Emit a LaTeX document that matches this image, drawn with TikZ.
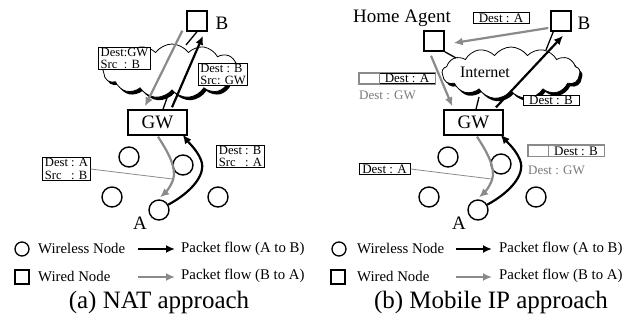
\documentclass[tikz,border=0pt]{standalone}
\usepackage{fontspec}
\setmainfont{Liberation Serif}
\usetikzlibrary{shapes.symbols,shadows,arrows.meta,calc,fit}
\definecolor{flowgray}{HTML}{8A8A8A}
\definecolor{textgray}{HTML}{7A7A7A}
\tikzset{
  wired/.style={draw, line width=1.4pt, minimum size=20pt, inner sep=0pt},
  wireless/.style={circle, draw, line width=1.4pt, minimum size=20pt, inner sep=0pt},
  gwbox/.style={draw, line width=1.4pt, minimum width=59pt, minimum height=25pt, inner sep=0pt, font=\fontsize{19}{19}\selectfont},
  big/.style={font=\fontsize{19}{19}\selectfont, inner sep=0pt},
  hdr/.style={draw, fill=white, line width=1pt, font=\fontsize{12.6}{12.6}\selectfont, align=left, inner xsep=2pt, inner ysep=0.5pt},
  hdrone/.style={draw, fill=white, line width=1pt, font=\fontsize{13}{13}\selectfont, inner xsep=1pt, inner ysep=1pt, minimum width=56pt},
  slot/.style={draw=flowgray, fill=white, line width=1pt, minimum width=20pt, inner sep=0pt},
  outer/.style={draw=flowgray, line width=1.3pt, inner sep=0pt},
  tunnel/.style={text=textgray, font=\fontsize{13}{13}\selectfont, inner sep=0pt, anchor=west},
  fwd/.style={line width=2.2pt, -{Latex[length=9pt,width=8pt]}},
  bwd/.style={fwd, draw=flowgray},
  legfwd/.style={fwd, line width=2.6pt},
  legbwd/.style={legfwd, draw=flowgray},
  link/.style={line width=1.3pt},
  note/.style={line width=0.8pt, draw=flowgray},
  net/.style={cloud, cloud puffs=13, cloud puff arc=110, aspect=2.5, draw, fill=white, line width=0.8pt, inner sep=0pt,
    drop shadow={shadow xshift=2.5pt, shadow yshift=-3pt, fill=black, opacity=1}},
  legtext/.style={font=\fontsize{14.8}{14.8}\selectfont, inner sep=0pt, anchor=west},
  caption/.style={font=\fontsize{25}{25}\selectfont, inner sep=0pt},
}
\begin{document}
\begin{tikzpicture}[x=1pt,y=-1pt]
\useasboundingbox (0,0) rectangle (633,320);

% ---------------- (a) NAT approach ----------------
\node[net, minimum width=138pt, minimum height=54pt] (netA) at (172,71) {};
\node[wired] (bA) at (197,21) {};
\node[big] (bLabA) at (222,23) {B};
\node[gwbox] (gwA) at (157.5,122.5) {GW};
\node[wireless] (a1) at (129,157) {};
\node[wireless] (a2) at (183,165) {};
\node[wireless] (a3) at (112,197) {};
\node[wireless] (aA) at (159,210) {};
\node[wireless] (a5) at (218,197) {};
\node[big] (aLab) at (140,223) {A};

\coordinate (netAtop) at (186,45);
\coordinate (netAbot) at (168,95);
\draw[link] (bA.south) -- (netAtop);
\draw[link] ($(gwA.north)+(5.5,0)$) -- (netAbot);

\draw[bwd] ($(bA.south west)+(-4,-1)$) -- ($(gwA.north)+(-12.5,-3)$);
\draw[fwd] ($(gwA.north)+(14.5,-2)$) -- ($(bA.south)+(6,4)$);

\draw[bwd] ($(gwA.south)+(0.5,1)$) .. controls (168,152) and (177,168) .. (173,180)
  .. controls (170,188) and (165,193) .. ($(aA.north)+(1,-2)$);
\draw[fwd] (aA.30) .. controls (190,193) and (207,175) .. (201,160)
  .. controls (197,150) and (189,143) .. ($(gwA.south east)+(-5,-1)$);

\node[hdr] (hA1) at (124.5,58.5) {Dest:GW\\Src~~: B};
\node[hdr] (hA2) at (223,74.5) {Dest : B\\Src: GW};
\node[hdr] (hA3) at (240.5,156.5) {Dest : B\\Src~~~: A};
\node[hdr] (hA4) at (66.5,169) {Dest : A\\Src~~~: B};
\coordinate (curveA) at (172.5,179);
\draw[note] (hA4.east) -- (curveA);

% legend (a)
\node[wireless, minimum size=14pt, line width=1.3pt] (lgA1) at (22,249) {};
\node[legtext] (lgA1t) at (38,248.5) {Wireless Node};
\node[wired, minimum size=14pt, line width=1.3pt] (lgA2) at (22,277) {};
\node[legtext] (lgA2t) at (38,276) {Wired Node};
\coordinate (lgAf1) at (138,249);
\coordinate (lgAf2) at (175,249);
\coordinate (lgAb1) at (138,277);
\coordinate (lgAb2) at (175,277);
\draw[legfwd] (lgAf1) -- (lgAf2);
\draw[legbwd] (lgAb1) -- (lgAb2);
\node[legtext] (lgA3t) at (181,248.5) {Packet flow (A to B)};
\node[legtext] (lgA4t) at (181,276) {Packet flow (B to A)};
\node[caption] (capA) at (159,302) {(a) NAT approach};

% ---------------- (b) Mobile IP approach ----------------
\node[net, minimum width=138pt, minimum height=52pt] (netB) at (511,73) {};
\node[font=\fontsize{16}{16}\selectfont, inner sep=0pt] (inet) at (485,72) {Internet};
\node[wired] (bB) at (561,21) {};
\node[big] (bLabB) at (584,23) {B};
\node[wired] (ha) at (434,41) {};
\node[big] (haLab) at (402,18) {Home Agent};
\node[gwbox] (gwB) at (473.5,122.5) {GW};
\node[wireless] (b1) at (448,157) {};
\node[wireless] (b2) at (501,164) {};
\node[wireless] (b3) at (429,197) {};
\node[wireless] (bA2) at (478,210) {};
\node[wireless] (b5) at (536,197) {};
\node[big] (bLab) at (459,223) {A};

\coordinate (netBha) at (456,58);
\coordinate (netBgw) at (479,97);
\coordinate (netBb) at (546,50);
\draw[link] (ha.south east) -- (netBha);
\draw[link] ($(gwB.north)+(2.5,0)$) -- (netBgw);
\draw[link] ($(bB.south west)+(3,0)$) -- (netBb);

\draw[bwd] ($(bB.west)+(-2,7)$) -- ($(ha.east)+(9,2)$);
\draw[bwd] ($(ha.south)+(-3,4)$) -- ($(gwB.north west)+(9,-3)$);
\draw[fwd] ($(gwB.north)+(22.5,-2)$) -- ($(bB.south)+(2,4)$);

\draw[bwd] ($(gwB.south)+(3.5,1)$) .. controls (487,152) and (496,168) .. (492,180)
  .. controls (489,188) and (484,193) .. ($(bA2.north)+(1,-2)$);
\draw[fwd] (bA2.30) .. controls (509,193) and (526,175) .. (520,160)
  .. controls (516,150) and (508,143) .. ($(gwB.south east)+(-3,-1)$);

\node[hdrone] (hB1) at (501,18) {Dest : A};
\node[hdrone] (hB2) at (551,100.5) {Dest : B};
\node[hdrone, minimum width=51pt] (hB4) at (384.5,169) {Dest : A};
\coordinate (curveB) at (491.5,179);
\draw[note] (hB4.east) -- (curveB);

% tunnelled packets: inner header boxed, outer header slot in grey
\node[hdrone] (hB3in) at (407,78.5) {Dest : A};
\node[slot, minimum height=10.6pt] (hB3out) at (369,78.5) {};
\node[outer, fit=(hB3out)(hB3in)] (hB3) {};
\node[tunnel] (hB3t) at (359,95) {Dest : GW};

\node[hdrone] (hB5in) at (576,151) {Dest : B};
\node[slot, minimum height=10.6pt] (hB5out) at (538,151) {};
\node[outer, fit=(hB5out)(hB5in)] (hB5) {};
\node[tunnel] (hB5t) at (528,170) {Dest : GW};

% legend (b)
\node[wireless, minimum size=14pt, line width=1.3pt] (lgB1) at (339,249) {};
\node[legtext] (lgB1t) at (357,248.5) {Wireless Node};
\node[wired, minimum size=14pt, line width=1.3pt] (lgB2) at (338,277) {};
\node[legtext] (lgB2t) at (357,276) {Wired Node};
\coordinate (lgBf1) at (456,249);
\coordinate (lgBf2) at (492,249);
\coordinate (lgBb1) at (456,277);
\coordinate (lgBb2) at (492,277);
\draw[legfwd] (lgBf1) -- (lgBf2);
\draw[legbwd] (lgBb1) -- (lgBb2);
\node[legtext] (lgB3t) at (499,248.5) {Packet flow (A to B)};
\node[legtext] (lgB4t) at (499,276) {Packet flow (B to A)};
\node[caption] (capB) at (491,302) {(b) Mobile IP approach};
\end{tikzpicture}
\end{document}
